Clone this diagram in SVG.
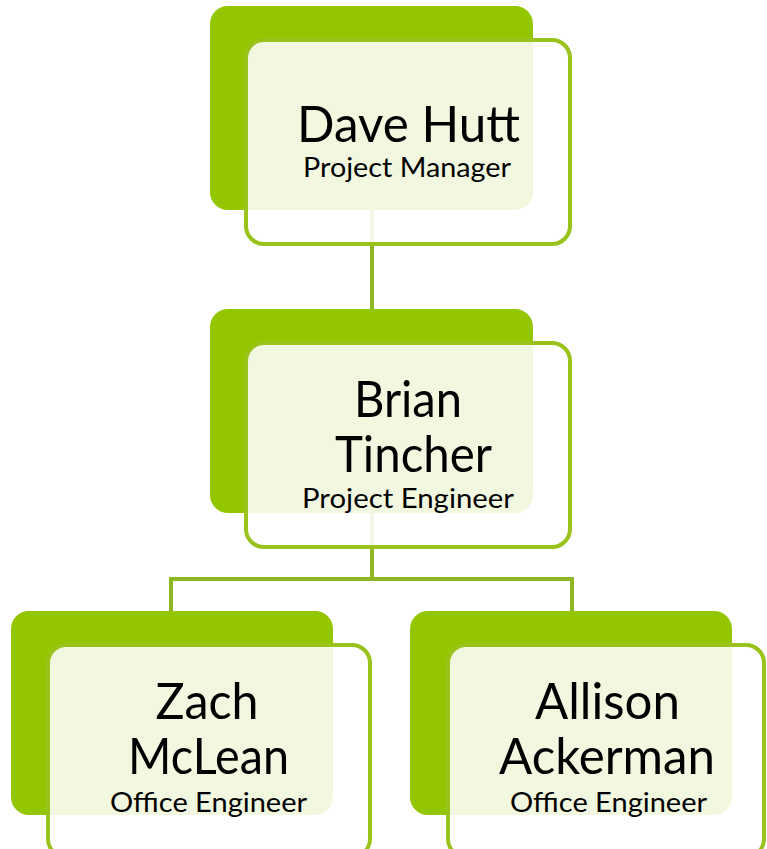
<svg xmlns="http://www.w3.org/2000/svg" width="767" height="849" viewBox="0 0 767 849">
<style>
.bg{fill:#ffffff}
.back{fill:#94c600}
.front{fill:#ffffff;fill-opacity:0.88;stroke:#99c31a;stroke-width:4}
.conn{fill:none;stroke:#8db823;stroke-width:4}
.name{font-family:Lato,"Liberation Sans",sans-serif;font-size:50px;fill:#000;text-anchor:middle}
.title{font-family:Lato,"Liberation Sans",sans-serif;font-size:26px;fill:#000;text-anchor:middle}
</style>
<rect class="bg" x="0" y="0" width="767" height="849"/>
<g id="connectors">
<line class="conn" x1="372" y1="205" x2="372" y2="312"/>
<line class="conn" x1="372" y1="508" x2="372" y2="579"/>
<polyline class="conn" points="171,614 171,579 572,579 572,614"/>
</g>
<g id="dave-hutt">
<rect class="back" x="210" y="6" width="323" height="204" rx="18"/>
<rect class="front" x="246" y="40" width="324" height="204" rx="18"/>
<text class="name" x="408.5" y="142" textLength="223" lengthAdjust="spacingAndGlyphs">Dave Hutt</text>
<text class="title" x="407" y="177" textLength="208" lengthAdjust="spacingAndGlyphs">Project Manager</text>
</g>
<g id="brian-tincher">
<rect class="back" x="210" y="309" width="323" height="204" rx="18"/>
<rect class="front" x="246" y="343" width="324" height="204" rx="18"/>
<text class="name" x="408" y="417" textLength="108" lengthAdjust="spacingAndGlyphs">Brian</text>
<text class="name" x="413.5" y="472" textLength="157" lengthAdjust="spacingAndGlyphs">Tincher</text>
<text class="title" x="408" y="508" textLength="212" lengthAdjust="spacingAndGlyphs">Project Engineer</text>
</g>
<g id="zach-mclean">
<rect class="back" x="11" y="611" width="322" height="204" rx="18"/>
<rect class="front" x="48" y="645" width="322" height="212" rx="18"/>
<text class="name" x="207" y="719" textLength="103" lengthAdjust="spacingAndGlyphs">Zach</text>
<text class="name" x="208.5" y="774" textLength="161" lengthAdjust="spacingAndGlyphs">McLean</text>
<text class="title" x="208.5" y="812" textLength="197" lengthAdjust="spacingAndGlyphs">Office Engineer</text>
</g>
<g id="allison-ackerman">
<rect class="back" x="410" y="611" width="322" height="204" rx="18"/>
<rect class="front" x="448" y="645" width="316" height="212" rx="18"/>
<text class="name" x="607.5" y="719" textLength="145" lengthAdjust="spacingAndGlyphs">Allison</text>
<text class="name" x="607" y="774" textLength="216" lengthAdjust="spacingAndGlyphs">Ackerman</text>
<text class="title" x="608.5" y="812" textLength="197" lengthAdjust="spacingAndGlyphs">Office Engineer</text>
</g>
</svg>
